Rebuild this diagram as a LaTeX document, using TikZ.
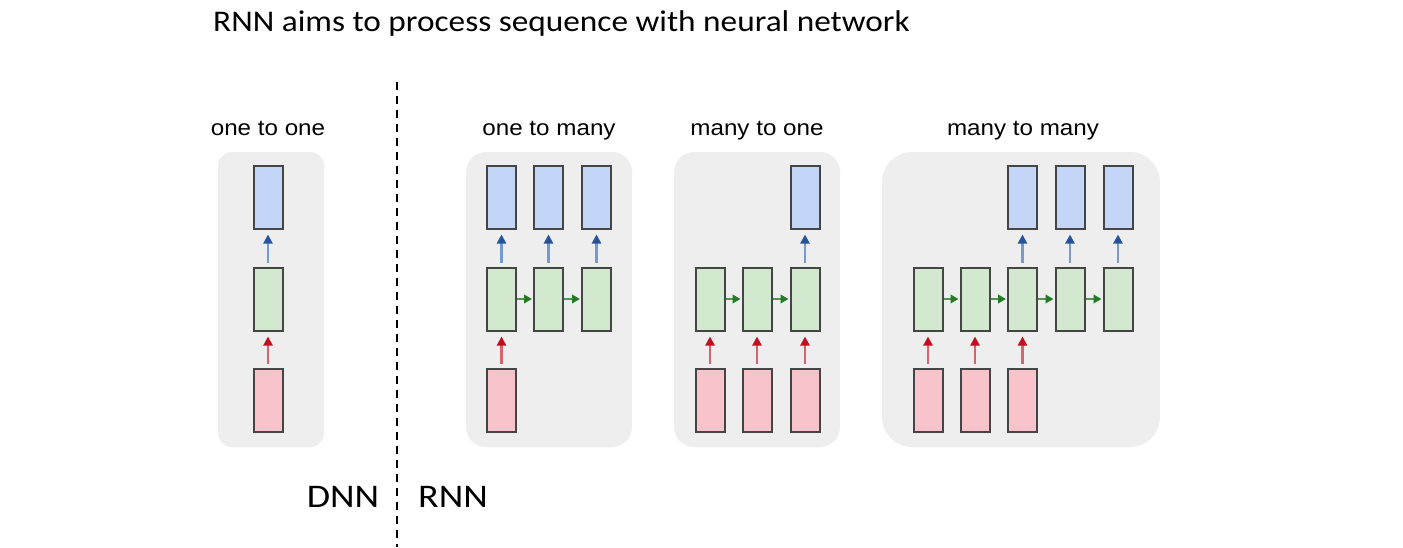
\documentclass[tikz,border=0pt]{standalone}
\usepackage{fontspec}
\setmainfont{Carlito}
\newfontfamily\lblfont{Liberation Sans}
\usetikzlibrary{arrows.meta}
\definecolor{panelgray}{HTML}{EEEEEE}
\definecolor{bluefill}{HTML}{C3D6F7}
\definecolor{greenfill}{HTML}{D2E9D0}
\definecolor{redfill}{HTML}{F8C3CA}
\definecolor{boxline}{HTML}{454545}
\definecolor{bluearrow}{HTML}{2A64B8}
\definecolor{redarrow}{HTML}{C01020}
\definecolor{greenarrow}{HTML}{267A26}
\tikzset{
  panel/.style={fill=panelgray, draw=none, rounded corners=14pt, inner sep=0pt},
  cell/.style={draw=boxline, line width=2pt, minimum width=29pt, minimum height=63pt, inner sep=0pt},
  outcell/.style={cell, fill=bluefill},
  hidcell/.style={cell, fill=greenfill},
  incell/.style={cell, fill=redfill},
  uparrow/.style={line width=2.2pt, shorten <=4pt, shorten >=5pt},
  outarrow/.style={uparrow, draw=bluearrow!65, -{Triangle[length=9pt,width=9pt,color=bluearrow!85!black]}},
  inarrow/.style={uparrow, draw=redarrow!65, -{Triangle[length=9pt,width=9pt,color=redarrow]}},
  recarrow/.style={line width=2.2pt, draw=greenarrow!80, -{Triangle[length=8pt,width=8.5pt,color=greenarrow]}, shorten >=1pt},
  caption/.style={font=\lblfont\fontsize{22}{26}\selectfont, anchor=base},
}
\newcommand{\hstretch}[2]{\scalebox{#1}[1]{#2}}
\begin{document}
\begin{tikzpicture}[x=1pt,y=-1pt]
\useasboundingbox (0,0) rectangle (1403,547);
\fill[white] (0,0) rectangle (1403,547);

\node[anchor=base west, font=\fontsize{30}{34}\selectfont, inner sep=0pt] (title) at (213,31) {\hstretch{1.11}{RNN aims to process sequence with neural network}};

% divider
\coordinate (dtop) at (397,82);
\coordinate (dbot) at (397,547);
\draw[line width=2.6pt, dash pattern=on 8pt off 6pt] (dtop) -- (dbot);
\node[anchor=base, font=\fontsize{33}{38}\selectfont, inner sep=0pt] (dnn) at (343,507) {\hstretch{1.15}{DNN}};
\node[anchor=base, font=\fontsize{33}{38}\selectfont, inner sep=0pt] (rnn) at (453,507) {\hstretch{1.15}{RNN}};

% panels
\node[panel, minimum width=106pt, minimum height=295pt] (p1) at (271,299.5) {};
\node[panel, minimum width=166pt, minimum height=295pt, rounded corners=20pt] (p2) at (549,299.5) {};
\node[panel, minimum width=166pt, minimum height=295pt, rounded corners=20pt] (p3) at (757,299.5) {};
\node[panel, minimum width=278pt, minimum height=295pt, rounded corners=30pt] (p4) at (1021,299.5) {};

% captions
\node[caption] (c1) at (268,135) {\hstretch{1.1}{one to one}};
\node[caption] (c2) at (549,135) {\hstretch{1.1}{one to many}};
\node[caption] (c3) at (757,135) {\hstretch{1.1}{many to one}};
\node[caption] (c4) at (1023,135) {\hstretch{1.1}{many to many}};

% one to one
\node[outcell] (a1o) at (268,197) {};
\node[hidcell] (a1h) at (268,299) {};
\node[incell]  (a1i) at (268,400.5) {};
\draw[outarrow] (a1h.north) -- (a1o.south);
\draw[inarrow] (a1i.north) -- (a1h.south);

% one to many
\foreach \n/\x in {1/501.5,2/548.5,3/596.5}{
  \node[outcell] (b\n o) at (\x,197) {};
  \node[hidcell] (b\n h) at (\x,299) {};
  \draw[outarrow] (b\n h.north) -- (b\n o.south);
}
\node[incell] (b1i) at (501.5,400.5) {};
\draw[inarrow] (b1i.north) -- (b1h.south);
\draw[recarrow] (b1h.east) -- (b2h.west);
\draw[recarrow] (b2h.east) -- (b3h.west);

% many to one
\foreach \n/\x in {1/710,2/757,3/805}{
  \node[hidcell] (m\n h) at (\x,299) {};
  \node[incell] (m\n i) at (\x,400.5) {};
  \draw[inarrow] (m\n i.north) -- (m\n h.south);
}
\node[outcell] (m3o) at (805,197) {};
\draw[outarrow] (m3h.north) -- (m3o.south);
\draw[recarrow] (m1h.east) -- (m2h.west);
\draw[recarrow] (m2h.east) -- (m3h.west);

% many to many
\foreach \n/\x in {1/928,2/975,3/1022.5,4/1070,5/1118}{
  \node[hidcell] (n\n h) at (\x,299) {};
}
\foreach \n/\x in {1/928,2/975,3/1022.5}{
  \node[incell] (n\n i) at (\x,400.5) {};
  \draw[inarrow] (n\n i.north) -- (n\n h.south);
}
\foreach \n/\x in {3/1022.5,4/1070,5/1118}{
  \node[outcell] (n\n o) at (\x,197) {};
  \draw[outarrow] (n\n h.north) -- (n\n o.south);
}
\draw[recarrow] (n1h.east) -- (n2h.west);
\draw[recarrow] (n2h.east) -- (n3h.west);
\draw[recarrow] (n3h.east) -- (n4h.west);
\draw[recarrow] (n4h.east) -- (n5h.west);
\end{tikzpicture}
\end{document}
